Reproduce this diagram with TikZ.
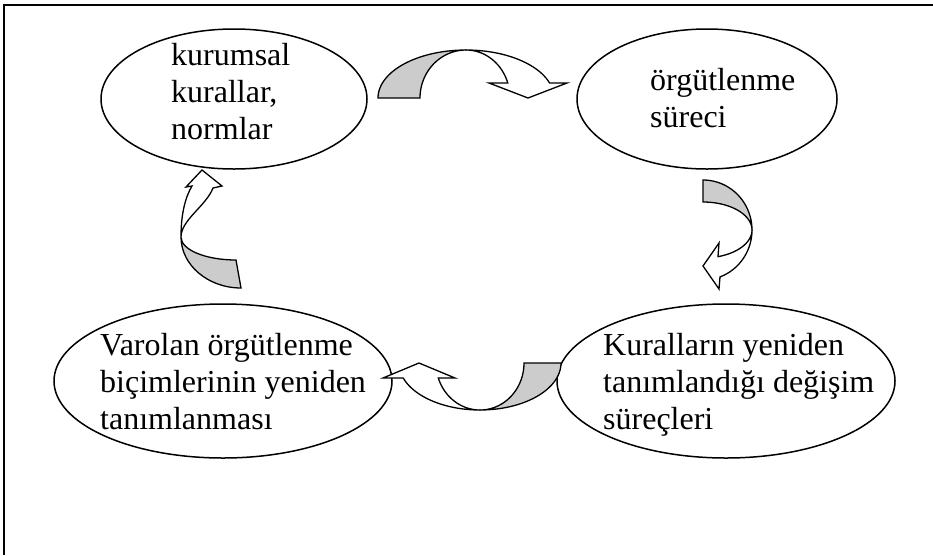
\documentclass[tikz,border=0pt]{standalone}
\usepackage{fontspec}
\setmainfont{Liberation Serif}
\usetikzlibrary{shapes.geometric}
\definecolor{shade}{RGB}{204,204,204}
\tikzset{
  oval/.style={draw,ellipse,line width=1.5pt,inner sep=0pt,fill=white},
  lbl/.style={anchor=base west,align=left,inner sep=0pt,font=\fontsize{32}{36.8}\selectfont},
  band/.style={draw,line width=1.3pt,line join=miter,fill=white},
  backside/.style={draw,line width=1.3pt,line join=miter,fill=shade},
  frameline/.style={line width=2pt}
}
\begin{document}
\begin{tikzpicture}[x=1pt,y=-1pt]
\useasboundingbox (0,0) rectangle (933,555);
\coordinate (fb) at (4,555);
\coordinate (fc) at (4,5);
\coordinate (fr) at (933,5);
\draw[frameline] (fb) -- (fc) -- (fr);

% ellipses
\node[oval,minimum width=266pt,minimum height=140pt] (e1) at (234,99) {};
\node[oval,minimum width=260pt,minimum height=140pt] (e2) at (707,99) {};
\node[oval,minimum width=338pt,minimum height=154pt] (e3) at (223,381) {};
\node[oval,minimum width=338pt,minimum height=154pt] (e4) at (726,381) {};

% texts (anchor = baseline of the last line)
\node[lbl] (t1) at (171,139) {kurumsal\\kurallar,\\normlar};
\node[lbl] (t2) at (650,127) {örgütlenme\\süreci};
\node[lbl] (t3) at (100,429) {Varolan örgütlenme\\biçimlerinin yeniden\\tanımlanması};
\node[lbl] (t4) at (603,429) {Kuralların yeniden\\tanımlandığı değişim\\süreçleri};

% top arrow (curved down)
\filldraw[backside] plot[domain=180:270,samples=30] ({466+88*cos(\x)},{98+48*sin(\x)})
  -- plot[domain=270:180,samples=30] ({466+46*cos(\x)},{98+48*sin(\x)}) -- cycle;
\filldraw[band] plot[domain=270:341.8,samples=30] ({466+88*cos(\x)},{98+48*sin(\x)})
  -- (567,83) -- (528,98) -- (489,83)
  -- plot[domain=341.8:270,samples=30] ({466+44*cos(\x)},{98+48*sin(\x)}) -- cycle;

% right arrow (curved left)
\filldraw[backside] plot[domain=270:360,samples=30] ({703+49*cos(\x)},{230+50*sin(\x)})
  -- plot[domain=360:270,samples=30] ({703+49*cos(\x)},{230+28*sin(\x)}) -- cycle;
\filldraw[band] plot[domain=0:69.7,samples=30] ({703+49*cos(\x)},{230+50*sin(\x)})
  -- (719,289) -- (703,266) -- (719,243)
  -- plot[domain=72.2:0,samples=30] ({703+49*cos(\x)},{230+28*sin(\x)}) -- cycle;

% bottom arrow (curved up)
\filldraw[backside] plot[domain=0:90,samples=30] ({480+81*cos(\x)},{363+47*sin(\x)})
  -- plot[domain=90:0,samples=30] ({480+44*cos(\x)},{363+47*sin(\x)}) -- cycle;
\filldraw[band] plot[domain=90:161.4,samples=30] ({480+81*cos(\x)},{363+47*sin(\x)})
  -- (383,378) -- (419,363) -- (455,378)
  -- plot[domain=161.4:90,samples=30] ({480+44*cos(\x)},{363+47*sin(\x)}) -- cycle;

% left arrow (curved, pointing up)
\filldraw[backside] (241,288) .. controls (208,288) and (181,265) .. (181,237)
  .. controls (181,250) and (206,260) .. (236,260) -- cycle;
\filldraw[band] (181,237) .. controls (181,212) and (186,196) .. (192,186)
  -- (186,187) -- (202,170) -- (222,186) -- (213,188)
  .. controls (206,206) and (181,220) .. (181,237) -- cycle;
\end{tikzpicture}
\end{document}
